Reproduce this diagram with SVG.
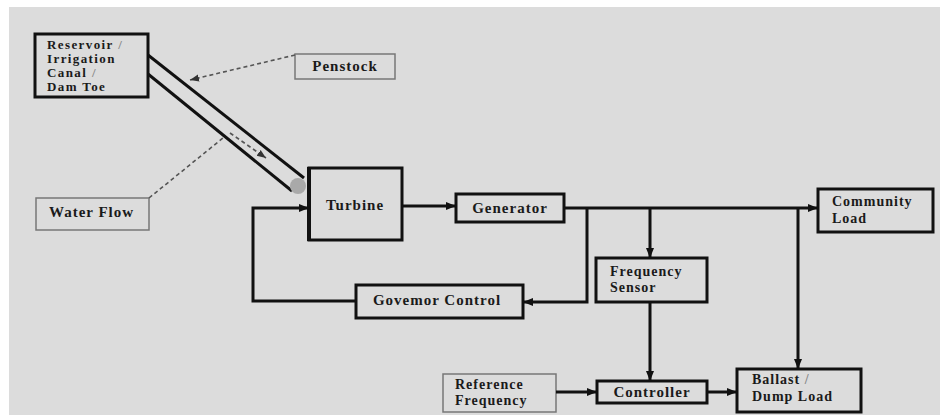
<svg xmlns="http://www.w3.org/2000/svg" width="940" height="415" viewBox="0 0 940 415">
  <style>
    .box { fill: none; stroke: #111; stroke-width: 3; }
    .note { fill: none; stroke: #777; stroke-width: 1.5; }
    .lbl { font-family: "Liberation Serif", "Times New Roman", serif; font-weight: bold; font-size: 15px; fill: #1a1a1a; letter-spacing: 1px; }
    .sm { font-size: 14px; }
    .xs { font-size: 13px; letter-spacing: 1.4px; }
    .wire { fill: none; stroke: #111; stroke-width: 3; }
    .dash { fill: none; stroke: #555; stroke-width: 1.6; stroke-dasharray: 4 3; }
  </style>
  <defs>
    <marker id="arr" markerUnits="userSpaceOnUse" markerWidth="10" markerHeight="10" viewBox="0 0 10 10" refX="10" refY="5" orient="auto">
      <path d="M0,1 L10,5 L0,9 Z" fill="#111"/>
    </marker>
    <marker id="arrDash" markerUnits="userSpaceOnUse" markerWidth="9" markerHeight="9" viewBox="0 0 10 10" refX="10" refY="5" orient="auto">
      <path d="M0,1 L10,5 L0,9 Z" fill="#333"/>
    </marker>
  </defs>

  <!-- page background -->
  <rect x="0" y="0" width="940" height="415" fill="#ffffff"/>
  <rect x="9" y="7" width="931" height="408" fill="#dcdcdc"/>

  <!-- penstock pipe -->
  <g id="pipe">
    <line x1="148" y1="55" x2="304" y2="178" stroke="#111" stroke-width="3"/>
    <line x1="148" y1="74" x2="292" y2="191" stroke="#111" stroke-width="3"/>
    <circle cx="298" cy="186" r="8" fill="#a9a9a9"/>
  </g>

  <g id="reservoir">
    <rect class="box" x="35" y="34" width="113" height="63"/>
    <text class="lbl xs" x="47" y="48.5">Reservoir <tspan fill="#888">/</tspan></text>
    <text class="lbl xs" x="47" y="62.5">Irrigation</text>
    <text class="lbl xs" x="47" y="76.5">Canal <tspan fill="#888">/</tspan></text>
    <text class="lbl xs" x="47" y="90.5">Dam Toe</text>
  </g>

  <g id="penstock">
    <rect class="note" x="295" y="54" width="100" height="25"/>
    <text class="lbl" x="345" y="71" text-anchor="middle">Penstock</text>
  </g>

  <g id="water-flow">
    <rect class="note" x="36" y="198" width="113" height="32"/>
    <text class="lbl" x="49" y="217">Water Flow</text>
  </g>

  <g id="turbine">
    <rect class="box" x="309" y="168" width="93" height="72"/>
    <line x1="309" y1="167" x2="309" y2="241" stroke="#111" stroke-width="4"/>
    <text class="lbl" x="355" y="210" text-anchor="middle">Turbine</text>
  </g>

  <g id="generator">
    <rect class="box" x="456" y="194" width="108" height="28"/>
    <text class="lbl" x="510" y="213" text-anchor="middle">Generator</text>
  </g>

  <g id="governor">
    <rect class="box" x="356" y="285" width="167" height="33"/>
    <text class="lbl" x="437" y="305" text-anchor="middle">Govemor Control</text>
  </g>

  <g id="frequency-sensor">
    <rect class="box" x="596" y="258" width="111" height="44"/>
    <text class="lbl sm" x="610" y="276">Frequency</text>
    <text class="lbl sm" x="610" y="292">Sensor</text>
  </g>

  <g id="community-load">
    <rect class="box" x="818" y="189" width="115" height="43"/>
    <text class="lbl sm" x="832" y="206">Community</text>
    <text class="lbl sm" x="832" y="223">Load</text>
  </g>

  <g id="reference-frequency">
    <rect class="note" x="443" y="374" width="113" height="38"/>
    <text class="lbl sm" x="455" y="389">Reference</text>
    <text class="lbl sm" x="455" y="405">Frequency</text>
  </g>

  <g id="controller">
    <rect class="box" x="597" y="381" width="110" height="22"/>
    <text class="lbl" x="652" y="397" text-anchor="middle">Controller</text>
  </g>

  <g id="ballast">
    <rect class="box" x="737" y="369" width="124" height="43"/>
    <text class="lbl sm" x="752" y="384">Ballast <tspan fill="#888">/</tspan></text>
    <text class="lbl sm" x="752" y="401">Dump Load</text>
  </g>

  <g id="connectors">
    <!-- leaders -->
    <path class="dash" d="M295,55 L190,80" marker-end="url(#arrDash)"/>
    <path class="dash" d="M149,198 L223,138"/>
    <path class="dash" d="M230,133 L266,158" marker-end="url(#arrDash)"/>
    <!-- power and control paths -->
    <path class="wire" d="M402,206 H456" marker-end="url(#arr)"/>
    <path class="wire" d="M564,208 H818" marker-end="url(#arr)"/>
    <path class="wire" d="M587,208 V302 H523" marker-end="url(#arr)"/>
    <path class="wire" d="M650,208 V258" marker-end="url(#arr)"/>
    <path class="wire" d="M798,208 V369" marker-end="url(#arr)"/>
    <path class="wire" d="M650,302 V381" marker-end="url(#arr)"/>
    <path class="wire" d="M556,392 H597" marker-end="url(#arr)"/>
    <path class="wire" d="M707,392 H737" marker-end="url(#arr)"/>
    <path class="wire" d="M356,301 H253 V208 H309" marker-end="url(#arr)"/>
  </g>
</svg>
